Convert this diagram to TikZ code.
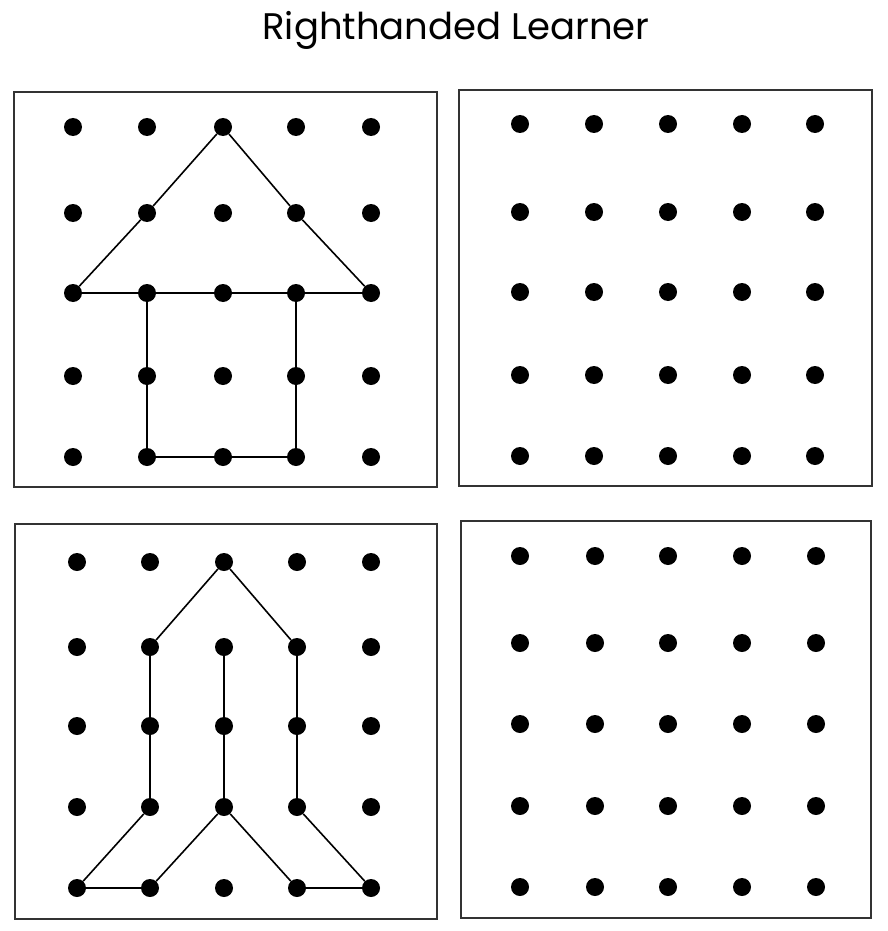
\documentclass[tikz,border=0pt]{standalone}
\usepackage{fontspec}
\setmainfont{Poppins}
\usepackage{tikz}
\usetikzlibrary{positioning}
\tikzset{
  gdot/.style={circle,fill=black,inner sep=0pt,minimum size=18pt},
  gframe/.style={draw=black!80,line width=1.3pt},
  gline/.style={line width=1.6pt,draw=black},
  gtitle/.style={font=\fontsize{37}{40}\selectfont,inner sep=0pt}
}

\begin{document}
\begin{tikzpicture}[x=1pt,y=-1pt]
  \useasboundingbox (0,0) rectangle (887,931);
  \node[gtitle,anchor=base] (title) at (456,40) {Righthanded Learner};
  % frames
  \draw[gframe] (14,92) rectangle (437,487);
  \draw[gframe] (459,90) rectangle (872,486);
  \draw[gframe] (15,524) rectangle (437,919);
  \draw[gframe] (461,521) rectangle (871,918);
  % dot grids
  \foreach \p/\xs/\ys in {
     A/{73,147,223,296,371}/{127,213,293,376,457},
     B/{520,594,668,742,815}/{124,212,292,375,456},
     C/{77,150,224,297,371}/{562,647,726,807,888},
     D/{520,595,668,742,816}/{556,643,724,806,887}}{
    \foreach \x [count=\c] in \xs {
      \foreach \y [count=\r] in \ys {
        \node[gdot] (\p-\c-\r) at (\x,\y) {};
      }
    }
  }
  % house
  \draw[gline] (A-1-3) -- (A-2-2) -- (A-3-1) -- (A-4-2) -- (A-5-3) -- (A-4-3) -- (A-3-3) -- (A-2-3) -- (A-1-3);
  \draw[gline] (A-2-3) -- (A-2-4) -- (A-2-5) -- (A-3-5) -- (A-4-5) -- (A-4-4) -- (A-4-3);
  % rocket
  \draw[gline] (C-2-2) -- (C-3-1) -- (C-4-2);
  \draw[gline] (C-2-2) -- (C-2-3) -- (C-2-4) -- (C-1-5) -- (C-2-5) -- (C-3-4) -- (C-4-5) -- (C-5-5) -- (C-4-4) -- (C-4-3) -- (C-4-2);
  \draw[gline] (C-3-2) -- (C-3-3) -- (C-3-4);
\end{tikzpicture}
\end{document}
